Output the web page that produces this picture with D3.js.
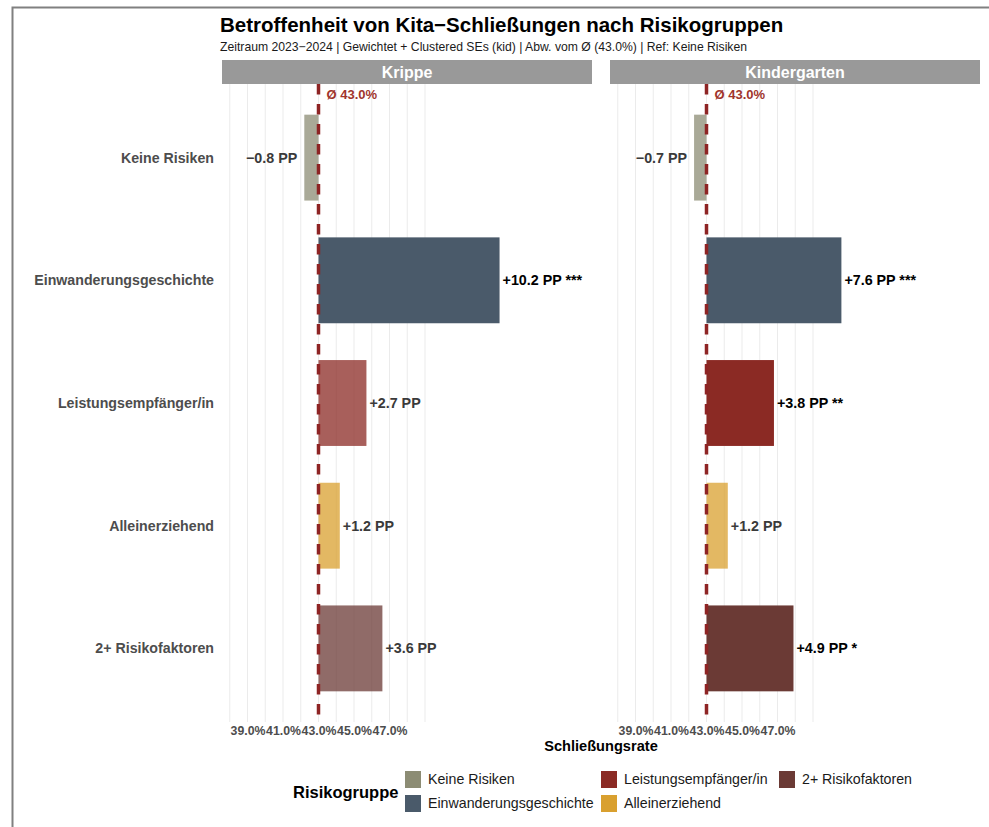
<!DOCTYPE html>
<html><head><meta charset="utf-8">
<script src="https://cdn.jsdelivr.net/npm/d3@7"></script>
<style>
html,body{margin:0;padding:0;background:#fff;}
svg{display:block;font-family:"Liberation Sans",Arial,Helvetica,sans-serif;}
</style></head>
<body><svg id="chart" width="989" height="827"></svg>
<script>
// ---- data ----
const categories = ["Keine Risiken","Einwanderungsgeschichte","Leistungsempfänger/in","Alleinerziehend","2+ Risikofaktoren"];
const panels = ["Krippe","Kindergarten"];
const meanRate = 43.0;
const diffKrippe = [-0.8, 10.2, 2.7, 1.2, 3.6];
const diffKindergarten = [-0.7, 7.6, 3.8, 1.2, 4.9];
const starsKrippe = ["", "***", "", "", ""];
const starsKindergarten = ["", "***", "**", "", "*"];
const colors = ["#8C8C74","#4A5A6A","#8B2A24","#D9A02F","#6B3A35"];
const tickValues = [39, 41, 43, 45, 47];
const gridValues = [38,39,40,41,42,43,44,45,46,47,48,49];
const legendOrder = [0,1,2,3,4];

const svg = d3.select("#chart");

// frame
svg.append("rect").attr("x",12.5).attr("y",7.5).attr("width",1000).attr("height",850)
  .attr("fill","none").attr("stroke","#808080").attr("stroke-width",2);

// title / subtitle
svg.append("text").attr("x",220).attr("y",32).attr("font-size",20.5).attr("font-weight","bold")
  .attr("fill","#000").text("Betroffenheit von Kita−Schließungen nach Risikogruppen");
svg.append("text").attr("x",220).attr("y",51).attr("font-size",12.2).attr("fill","#1a1a1a")
  .text("Zeitraum 2023−2024 | Gewichtet + Clustered SEs (kid) | Abw. vom Ø (43.0%) | Ref: Keine Risiken");

const panelW = 370, panelTop = 84, panelBottom = 722;
const panelX = [222, 610];
const x = d3.scaleLinear().domain([meanRate - 96.5/17.75, meanRate - 96.5/17.75 + panelW/17.75]).range([0, panelW]);
const y = d3.scalePoint().domain(categories).range([panelTop, panelBottom]).padding(0.6);
const bandH = y.step()*0.7;

const diffs = [diffKrippe, diffKindergarten];
const stars = [starsKrippe, starsKindergarten];

panels.forEach((p, pi) => {
  const g = svg.append("g").attr("transform", `translate(${panelX[pi]},0)`);
  // strip
  g.append("rect").attr("x",0).attr("y",60).attr("width",panelW).attr("height",24).attr("fill","#999999");
  g.append("text").attr("x",panelW/2).attr("y",78).attr("text-anchor","middle")
    .attr("font-size",16).attr("font-weight","bold").attr("fill","#fff").text(p);
  // grid
  g.selectAll("line.grid").data(gridValues).enter().append("line")
    .attr("x1",d=>x(d)).attr("x2",d=>x(d)).attr("y1",panelTop).attr("y2",panelBottom)
    .attr("stroke","#EBEBEB").attr("stroke-width",1);
  // bars
  const data = categories.map((c,i)=>({c, i, d: diffs[pi][i], s: stars[pi][i]}));
  g.selectAll("rect.bar").data(data).enter().append("rect")
    .attr("x", d=> x(Math.min(meanRate, meanRate + d.d)))
    .attr("width", d=> Math.abs(x(meanRate + d.d) - x(meanRate)))
    .attr("y", d=> y(d.c) - bandH/2).attr("height", bandH)
    .attr("fill", d=> colors[d.i]).attr("fill-opacity", d=> d.s ? 1 : 0.75);
  // mean line
  g.append("line").attr("x1",x(meanRate)).attr("x2",x(meanRate)).attr("y1",panelTop).attr("y2",panelBottom)
    .attr("stroke","#8E2424").attr("stroke-width",3.5).attr("stroke-dasharray","10.5,9.5");
  g.append("text").attr("x",x(meanRate)+8).attr("y",98.5).attr("font-size",13).attr("font-weight","bold")
    .attr("fill","#A0342C").text("Ø 43.0%");
  // value labels
  g.selectAll("text.val").data(data).enter().append("text")
    .attr("x", d=> d.d >= 0 ? x(meanRate + d.d) + 3 : x(meanRate + d.d) - 7)
    .attr("y", d=> y(d.c)).attr("dy","0.35em")
    .attr("text-anchor", d=> d.d >= 0 ? "start" : "end")
    .attr("font-size",14.3).attr("font-weight","bold")
    .attr("fill", d=> d.s ? "#000" : "#3A3A3A")
    .text(d=> (d.d >= 0 ? "+" : "−") + Math.abs(d.d).toFixed(1) + " PP" + (d.s ? " " + d.s : ""));
  // x axis tick labels
  const ax = g.append("g").attr("transform",`translate(0,${panelBottom})`)
    .call(d3.axisBottom(x).tickValues(tickValues).tickSize(0).tickPadding(4).tickFormat(d=>d.toFixed(1)+"%"));
  ax.select(".domain").remove();
  ax.selectAll("text").attr("font-size",12.3).attr("font-weight","bold").attr("fill","#4D4D4D")
    .attr("font-family","Liberation Sans,Arial,sans-serif");
});

// y labels (left panel only)
svg.append("g").selectAll("text").data(categories).enter().append("text")
  .attr("x",214).attr("y",d=>y(d)).attr("dy","0.35em").attr("text-anchor","end")
  .attr("font-size",14.2).attr("font-weight","bold").attr("fill","#4D4D4D").text(d=>d);

// axis title
svg.append("text").attr("x",(222+980)/2).attr("y",751).attr("text-anchor","middle")
  .attr("font-size",14.6).attr("font-weight","bold").attr("fill","#000").text("Schließungsrate");

// legend
svg.append("text").attr("x",293).attr("y",798).attr("font-size",16.5).attr("font-weight","bold")
  .attr("fill","#000").text("Risikogruppe");
const colX = [405, 601, 779];
const rowY = [771, 795];
legendOrder.forEach((ci, k) => {
  const col = Math.floor(k/2), row = k%2;
  svg.append("rect").attr("x",colX[col]).attr("y",rowY[row]).attr("width",16).attr("height",17).attr("fill",colors[ci]);
  svg.append("text").attr("x",colX[col]+23).attr("y",rowY[row]+8.5).attr("dy","0.35em")
    .attr("font-size",14.2).attr("fill","#1a1a1a").text(categories[ci]);
});
</script></body></html>
